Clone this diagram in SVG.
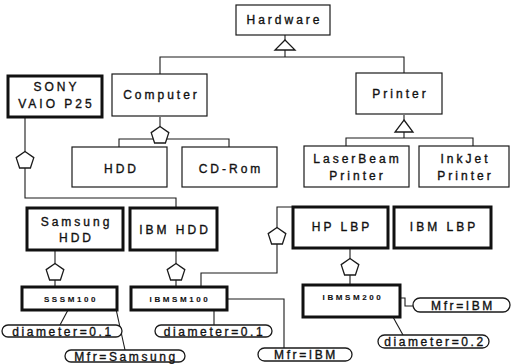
<svg xmlns="http://www.w3.org/2000/svg" width="512" height="364" viewBox="0 0 512 364">
<defs>
<style>
.bx{fill:#fff;stroke:#1a1a1a;stroke-width:1.2}
.tk{fill:#fff;stroke:#111;stroke-width:3}
.pl{fill:#fff;stroke:#1a1a1a;stroke-width:1.3}
.ln{fill:none;stroke:#1a1a1a;stroke-width:1.1}
.sh{fill:#fff;stroke:#1a1a1a;stroke-width:1.3}
text{font-family:"Liberation Sans",Arial,sans-serif;fill:#111;text-anchor:middle;stroke:#111;stroke-width:0.35}
.t{font-size:12px;letter-spacing:3px}
.s{font-size:8px;font-weight:bold;letter-spacing:2.6px;stroke-width:0.1}
.p{font-size:12px;letter-spacing:2.6px}
</style>
<polygon id="pent" points="0,-8.5 8.8,-2.4 5.4,8 -5.4,8 -8.8,-2.4"/>
</defs>

<g id="connectors">
<line class="ln" x1="285" y1="34" x2="285" y2="41"/>
<polyline class="ln" points="285,50 285,57"/>
<polyline class="ln" points="160,74 160,57 404,57 404,73"/>
<polygon class="sh" points="285,40 295,50 275,50"/>
<line class="ln" x1="404" y1="115" x2="404" y2="121"/>
<line class="ln" x1="404" y1="132" x2="404" y2="138"/>
<polyline class="ln" points="346,147 346,138 473,138 473,147"/>
<polygon class="sh" points="404,120 413,132 395,132"/>
<line class="ln" x1="160" y1="117" x2="160" y2="127"/>
<polyline class="ln" points="119,148 119,139 229,139 229,148"/>
<use href="#pent" class="sh" x="160" y="135"/>
<line class="ln" x1="25" y1="117" x2="25" y2="152"/>
<polyline class="ln" points="25,166 25,198 176,198 176,208"/>
<use href="#pent" class="sh" x="25" y="160"/>
<line class="ln" x1="55" y1="250" x2="55" y2="287"/>
<use href="#pent" class="sh" x="55" y="272"/>
<line class="ln" x1="176" y1="250" x2="176" y2="287"/>
<use href="#pent" class="sh" x="176" y="272"/>
<polyline class="ln" points="201,287 201,273 277,273 277,207 293,207"/>
<use href="#pent" class="sh" x="277" y="236"/>
<line class="ln" x1="350" y1="248" x2="350" y2="285"/>
<use href="#pent" class="sh" x="350" y="267"/>
<line class="ln" x1="68" y1="310" x2="60" y2="325"/>
<line class="ln" x1="116" y1="309" x2="125" y2="350"/>
<line class="ln" x1="214" y1="310" x2="214" y2="325"/>
<polyline class="ln" points="227,299 284,299 284,348"/>
<polyline class="ln" points="400,298 405,298 405,306 413,306"/>
<line class="ln" x1="393" y1="317" x2="403" y2="335"/>
</g>

<g id="hardware"><rect class="bx" x="236" y="5" width="94" height="30"/><text class="t" x="284.5" y="24">Hardware</text></g>
<g id="computer"><rect class="bx" x="112" y="74" width="95" height="42"/><text class="t" x="161.5" y="99">Computer</text></g>
<g id="printer"><rect class="bx" x="356" y="73" width="86" height="41"/><text class="t" x="400.5" y="98">Printer</text></g>
<g id="sony"><rect class="tk" x="8" y="76" width="94" height="41"/><text class="t" x="56.5" y="91">SONY</text><text class="t" x="56.5" y="108">VAIO P25</text></g>
<g id="hdd"><rect class="bx" x="72" y="147" width="95" height="40"/><text class="t" x="121.5" y="173">HDD</text></g>
<g id="cdrom"><rect class="bx" x="182" y="147" width="95" height="40"/><text class="t" x="231" y="173">CD-Rom</text></g>
<g id="laserbeam"><rect class="bx" x="304" y="146" width="105" height="41"/><text class="t" x="357.5" y="163">LaserBeam</text><text class="t" x="357.5" y="180">Printer</text></g>
<g id="inkjet"><rect class="bx" x="419" y="146" width="90" height="41"/><text class="t" x="465.5" y="163">InkJet</text><text class="t" x="465.5" y="180">Printer</text></g>
<g id="samsunghdd"><rect class="tk" x="27" y="208" width="96" height="42"/><text class="t" x="76.5" y="226">Samsung</text><text class="t" x="76.5" y="242">HDD</text></g>
<g id="ibmhdd"><rect class="tk" x="130" y="208" width="87" height="42"/><text class="t" x="175" y="234">IBM HDD</text></g>
<g id="hplbp"><rect class="tk" x="293" y="207" width="95" height="41"/><text class="t" x="342" y="231">HP LBP</text></g>
<g id="ibmlbp"><rect class="tk" x="394" y="207" width="97" height="41"/><text class="t" x="444" y="231">IBM LBP</text></g>
<g id="sssm100"><rect class="tk" x="22" y="287" width="95" height="23"/><text class="s" x="71" y="302">SSSM100</text></g>
<g id="ibmsm100"><rect class="tk" x="131" y="287" width="96" height="23"/><text class="s" x="180" y="302">IBMSM100</text></g>
<g id="ibmsm200"><rect class="tk" x="303" y="285" width="97" height="32"/><text class="s" x="353" y="300">IBMSM200</text></g>
<g id="attr-diam1"><rect class="pl" x="2" y="325" width="120" height="12" rx="6"/><text class="p" x="63" y="335.5">diameter=0.1</text></g>
<g id="attr-mfr-samsung"><rect class="pl" x="65" y="350" width="120" height="12" rx="6"/><text class="p" x="126" y="360.5">Mfr=Samsung</text></g>
<g id="attr-diam2"><rect class="pl" x="155" y="325" width="117" height="12" rx="6"/><text class="p" x="214.5" y="335.5">diameter=0.1</text></g>
<g id="attr-mfr-ibm1"><rect class="pl" x="258" y="348" width="94" height="13" rx="6.5"/><text class="p" x="306" y="359">Mfr=IBM</text></g>
<g id="attr-mfr-ibm2"><rect class="pl" x="413" y="298" width="97" height="14" rx="7"/><text class="p" x="463" y="309.5">Mfr=IBM</text></g>
<g id="attr-diam3"><rect class="pl" x="378" y="335" width="111" height="13" rx="6.5"/><text class="p" x="435" y="346">diameter=0.2</text></g>
</svg>
